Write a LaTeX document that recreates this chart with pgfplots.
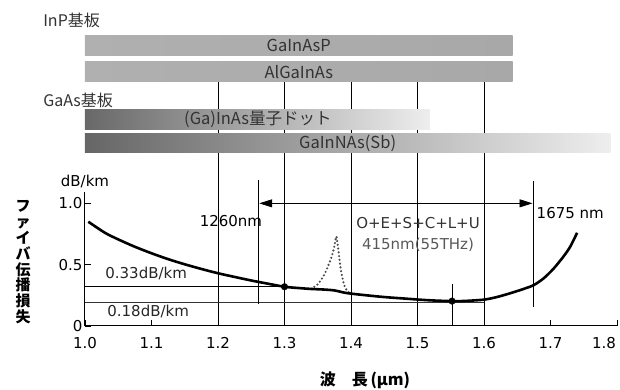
\documentclass[border=0pt]{standalone}
\usepackage{pgfplots}
\pgfplotsset{compat=1.18}
\usepackage{fontspec}
\setmainfont{DejaVu Sans}
\newfontfamily\jp{Noto Sans CJK JP}
\usetikzlibrary{arrows.meta}
\definecolor{txtgray}{HTML}{333333}
\begin{document}
\begin{tikzpicture}
\useasboundingbox (-85pt,-64pt) rectangle (535pt,326pt);
\begin{axis}[
  scale only axis, width=532pt, height=133.7pt,
  xmin=1.0, xmax=1.8, ymin=0, ymax=1.09,
  enlargelimits=false, clip=false,
  axis x line*=bottom, axis y line*=left,
  axis line style={line width=1pt},
  xtick={1.0,1.1,1.2,1.3,1.4,1.5,1.6,1.7,1.8},
  xticklabels={1.0,1.1,1.2,1.3,1.4,1.5,1.6,1.7,\hspace{-26pt}1.8},
  ytick={0,0.5,1.0}, yticklabels={0,0.5,1.0},
  tick align=inside, major tick length=6pt,
  tick style={black, line width=0.8pt},
  ticklabel style={font=\fontsize{15}{18}\selectfont},
  xticklabel style={yshift=-8pt},
  yticklabel style={xshift=1pt},
  /pgf/number format/assume math mode=true,
]
% vertical grid lines (extend up to bars)
\addplot[black, line width=0.8pt] coordinates {(1.2,0) (1.2,1.99)};
\addplot[black, line width=0.8pt] coordinates {(1.3,0) (1.3,1.99)};
\addplot[black, line width=0.8pt] coordinates {(1.4,0) (1.4,1.99)};
\addplot[black, line width=0.8pt] coordinates {(1.5,0) (1.5,1.99)};
\addplot[black, line width=0.8pt] coordinates {(1.6,0) (1.6,1.99)};
% material bars
\addplot[draw=none, left color={rgb,255:red,176;green,176;blue,176}, middle color={rgb,255:red,230;green,230;blue,230}, right color={rgb,255:red,168;green,168;blue,168}]
  coordinates {(1.0,2.203) (1.643,2.203) (1.643,2.372) (1.0,2.372)} -- cycle;
\addplot[draw=none, left color={rgb,255:red,176;green,176;blue,176}, middle color={rgb,255:red,230;green,230;blue,230}, right color={rgb,255:red,168;green,168;blue,168}]
  coordinates {(1.0,1.991) (1.643,1.991) (1.643,2.154) (1.0,2.154)} -- cycle;
\addplot[draw=none, left color={rgb,255:red,104;green,104;blue,104}, right color={rgb,255:red,238;green,238;blue,238}]
  coordinates {(1.0,1.603) (1.519,1.603) (1.519,1.769) (1.0,1.769)} -- cycle;
\addplot[draw=none, left color={rgb,255:red,102;green,102;blue,102}, right color={rgb,255:red,238;green,238;blue,238}]
  coordinates {(1.0,1.412) (1.79,1.412) (1.79,1.573) (1.0,1.573)} -- cycle;
\node[txtgray, font=\jp\fontsize{16.5}{18}\selectfont] at (axis cs:1.3215,2.2875) {GaInAsP};
\node[txtgray, font=\jp\fontsize{16.5}{18}\selectfont] at (axis cs:1.3215,2.072) {AlGaInAs};
\node[txtgray, font=\jp\fontsize{16.5}{18}\selectfont] at (axis cs:1.26,1.686) {(Ga)InAs量子ドット};
\node[txtgray, font=\jp\fontsize{16.5}{18}\selectfont] at (axis cs:1.395,1.4925) {GaInNAs(Sb)};
\node[txtgray, anchor=west, inner sep=0pt, font=\jp\fontsize{16}{18}\selectfont] at (axis cs:0.937,2.494) {InP基板};
\node[txtgray, anchor=west, inner sep=0pt, font=\jp\fontsize{16}{18}\selectfont] at (axis cs:0.937,1.842) {GaAs基板};
% reference horizontal lines
\addplot[black, line width=0.7pt] coordinates {(1.0,0.325) (1.3,0.325)};
\addplot[black!80, line width=0.7pt] coordinates {(1.0,0.193) (1.6,0.193)};
% short vertical lines
\addplot[black, line width=0.8pt] coordinates {(1.26,0.177) (1.26,1.19)};
\addplot[black, line width=0.8pt] coordinates {(1.675,0.155) (1.675,1.18)};
\addplot[black, line width=0.8pt] coordinates {(1.552,0) (1.552,0.34)};
% band arrow
\addplot[black, line width=0.8pt, {Triangle[length=13pt,width=8pt]}-{Triangle[length=13pt,width=8pt]}]
  coordinates {(1.262,1.0) (1.673,1.0)};
% OH absorption peak (dotted)
\addplot[black!70, line width=2.4pt, line cap=round, dash pattern=on 0pt off 3.8pt, smooth, tension=0.4] coordinates {
 (1.34,0.303) (1.35,0.34) (1.36,0.42) (1.37,0.55) (1.375,0.65) (1.378,0.73)
 (1.381,0.62) (1.385,0.45) (1.39,0.33) (1.395,0.28) (1.4,0.264)};
% loss curve
\addplot[black, line width=2.6pt, smooth, tension=0.5] coordinates {
 (1.005,0.85) (1.03,0.76) (1.05,0.706) (1.075,0.646) (1.1,0.593) (1.125,0.545)
 (1.15,0.503) (1.175,0.465) (1.2,0.43) (1.225,0.40) (1.25,0.371) (1.275,0.345)
 (1.3,0.32) (1.32,0.31) (1.34,0.302) (1.36,0.297) (1.375,0.29) (1.39,0.272)
 (1.4,0.264) (1.42,0.252) (1.45,0.236) (1.48,0.224) (1.5,0.216) (1.52,0.209)
 (1.55,0.203) (1.57,0.204) (1.6,0.215) (1.62,0.237) (1.64,0.268) (1.66,0.303)
 (1.675,0.334) (1.69,0.39) (1.705,0.47) (1.72,0.57) (1.73,0.65) (1.74,0.76)};
\addplot[only marks, mark=*, mark size=3.3pt, black] coordinates {(1.3,0.32) (1.552,0.203)};
% annotations
\node[font=\fontsize{15}{18}\selectfont] at (axis cs:1.2195,0.856) {1260nm};
\node[anchor=west, inner sep=0pt, font=\fontsize{15}{18}\selectfont] at (axis cs:1.679,0.92) {1675 nm};
\node[black!80, font=\fontsize{15}{18}\selectfont] at (axis cs:1.5008,0.84) {O+E+S+C+L+U};
\node[black!65, font=\fontsize{15}{18}\selectfont] at (axis cs:1.5008,0.66) {415nm(55THz)};
\node[black!85, font=\fontsize{15}{18}\selectfont] at (axis cs:1.092,0.432) {0.33dB/km};
\node[black!85, font=\fontsize{15}{18}\selectfont] at (axis cs:1.095,0.122) {0.18dB/km};
\node[font=\fontsize{15}{18}\selectfont] at (axis cs:1.0,1.18) {dB/km};
% axis titles
\node[align=center, font=\jp\bfseries\fontsize{15}{15.9}\selectfont] at (axis cs:0.907,0.52)
  {フ\\ァ\\イ\\バ\\伝\\播\\損\\失};
\node[font=\jp\bfseries\fontsize{16}{18}\selectfont] at (axis cs:1.421,-0.44) {波\quad 長\,(μm)};
\end{axis}
\end{tikzpicture}
\end{document}
